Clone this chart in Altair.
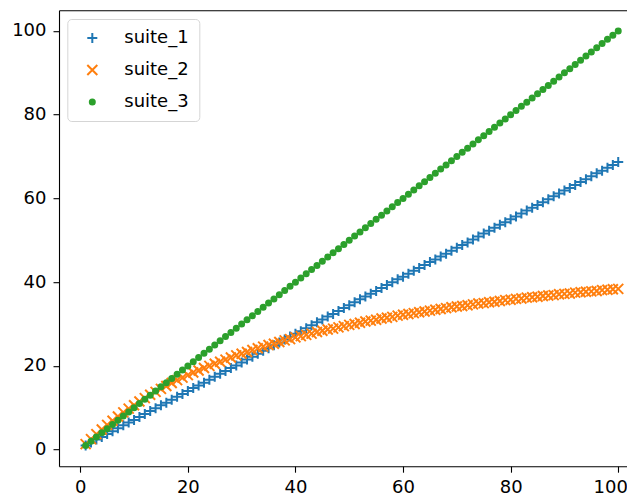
import altair as alt
import pandas as pd

x_values = list(range(1, 101))

suite_1 = [
    1.0, 1.7, 2.4, 3.0, 3.7, 4.4, 5.1, 5.8, 6.5, 7.1,
    7.8, 8.5, 9.2, 9.9, 10.6, 11.2, 11.9, 12.6, 13.3, 14.0,
    14.7, 15.3, 16.0, 16.7, 17.4, 18.1, 18.8, 19.5, 20.1, 20.8,
    21.5, 22.2, 22.9, 23.6, 24.2, 24.9, 25.6, 26.3, 27.0, 27.7,
    28.3, 29.0, 29.7, 30.4, 31.1, 31.8, 32.4, 33.1, 33.8, 34.5,
    35.2, 35.9, 36.6, 37.2, 37.9, 38.6, 39.3, 40.0, 40.7, 41.3,
    42.0, 42.7, 43.4, 44.1, 44.8, 45.4, 46.1, 46.8, 47.5, 48.2,
    48.9, 49.5, 50.2, 50.9, 51.6, 52.3, 53.0, 53.7, 54.3, 55.0,
    55.7, 56.4, 57.1, 57.8, 58.4, 59.1, 59.8, 60.5, 61.2, 61.9,
    62.5, 63.2, 63.9, 64.6, 65.3, 66.0, 66.6, 67.3, 68.0, 68.7,
]

suite_2 = [
    1.3, 2.5, 3.7, 4.8, 5.9, 6.9, 7.9, 8.9, 9.8, 10.6,
    11.5, 12.3, 13.1, 13.8, 14.5, 15.2, 15.9, 16.6, 17.2, 17.8,
    18.4, 18.9, 19.5, 20.0, 20.5, 21.0, 21.5, 22.0, 22.5, 22.9,
    23.3, 23.8, 24.2, 24.6, 25.0, 25.3, 25.7, 26.1, 26.4, 26.8,
    27.1, 27.4, 27.7, 28.1, 28.4, 28.7, 28.9, 29.2, 29.5, 29.8,
    30.0, 30.3, 30.6, 30.8, 31.0, 31.3, 31.5, 31.7, 32.0, 32.2,
    32.4, 32.6, 32.8, 33.0, 33.2, 33.4, 33.6, 33.8, 34.0, 34.2,
    34.3, 34.5, 34.7, 34.9, 35.0, 35.2, 35.3, 35.5, 35.7, 35.8,
    36.0, 36.1, 36.3, 36.4, 36.5, 36.7, 36.8, 36.9, 37.1, 37.2,
    37.3, 37.5, 37.6, 37.7, 37.8, 37.9, 38.1, 38.2, 38.3, 38.4,
]

suite_3 = [
    1, 2, 3, 4, 5, 6, 7, 8, 9, 10,
    11, 12, 13, 14, 15, 16, 17, 18, 19, 20,
    21, 22, 23, 24, 25, 26, 27, 28, 29, 30,
    31, 32, 33, 34, 35, 36, 37, 38, 39, 40,
    41, 42, 43, 44, 45, 46, 47, 48, 49, 50,
    51, 52, 53, 54, 55, 56, 57, 58, 59, 60,
    61, 62, 63, 64, 65, 66, 67, 68, 69, 70,
    71, 72, 73, 74, 75, 76, 77, 78, 79, 80,
    81, 82, 83, 84, 85, 86, 87, 88, 89, 90,
    91, 92, 93, 94, 95, 96, 97, 98, 99, 100,
]

series_names = ["suite_1", "suite_2", "suite_3"]
tick_values = [0, 20, 40, 60, 80, 100]

rows = []
for name, vals in zip(series_names, [suite_1, suite_2, suite_3]):
    for xv, yv in zip(x_values, vals):
        rows.append({"x": xv, "y": yv, "series": name})
df = pd.DataFrame(rows)

PLUS = "M-1,0L1,0M0,-1L0,1"
CROSS = "M-1,-1L1,1M-1,1L1,-1"
DOT = "M0.5,0A0.5,0.5 0 1,1 -0.5,0A0.5,0.5 0 1,1 0.5,0Z"

font = "DejaVu Sans"
x_scale = alt.Scale(domain=[-3.95, 101.63], nice=False, zero=False)
y_scale = alt.Scale(domain=[-3.96, 104.96], nice=False, zero=False)

points = (
    alt.Chart(df)
    .mark_point(strokeWidth=2, opacity=1, size=100)
    .encode(
        x=alt.X("x:Q", scale=x_scale,
                axis=alt.Axis(values=tick_values, title=None, grid=False,
                              domain=True, domainColor="black", domainWidth=1.1,
                              tickSize=6, tickWidth=1.1, tickColor="black",
                              labelFont=font, labelFontSize=18, labelColor="black",
                              labelPadding=6, labelFlush=False,
                              labelOffset=alt.condition("datum.value == 100",
                                                        alt.value(-8), alt.value(0)))),
        y=alt.Y("y:Q", scale=y_scale,
                axis=alt.Axis(values=tick_values, title=None, grid=False,
                              domain=True, domainColor="black", domainWidth=1.1,
                              tickSize=6, tickWidth=1.1, tickColor="black",
                              labelFont=font, labelFontSize=18, labelColor="black",
                              labelPadding=7, labelFlush=False)),
        stroke=alt.Stroke("series:N", scale=alt.Scale(domain=series_names,
                          range=["#1f77b4", "#ff7f0e", "#2ca02c"]), legend=alt.Legend(title=None)),
        fill=alt.Fill("series:N", scale=alt.Scale(domain=series_names,
                      range=["transparent", "transparent", "#2ca02c"]), legend=alt.Legend(title=None)),
        shape=alt.Shape("series:N", scale=alt.Scale(domain=series_names,
                        range=[PLUS, CROSS, DOT]), legend=alt.Legend(title=None)),
    )
)

# invisible layer that only carries the top spine
top_spine = (
    alt.Chart(df)
    .mark_point(opacity=0)
    .encode(
        x=alt.X("x:Q", scale=x_scale,
                axis=alt.Axis(orient="top", title=None, grid=False, labels=False, ticks=False,
                              domain=True, domainColor="black", domainWidth=1.1)),
    )
)

chart = (
    alt.layer(points, top_spine)
    .resolve_axis(x="independent")
    .properties(
        width=568,
        height=456,
        autosize=alt.AutoSizeParams(type="none"),
        padding={"left": 51, "top": 2.2, "right": 0, "bottom": 40},
    )
    .configure_view(stroke=None)
    .configure_legend(
        orient="none",
        legendX=8.3,
        legendY=8.8,
        padding=10,
        symbolOffset=6,
        symbolSize=100,
        symbolStrokeWidth=2,
        labelOffset=23,
        labelFont=font,
        labelFontSize=18,
        labelColor="black",
        rowPadding=14,
        fillColor="rgba(255,255,255,0.8)",
        strokeColor="#d5d5d5",
        cornerRadius=4,
    )
)

chart.save("out.html", embed_options={"renderer": "svg", "actions": False})
